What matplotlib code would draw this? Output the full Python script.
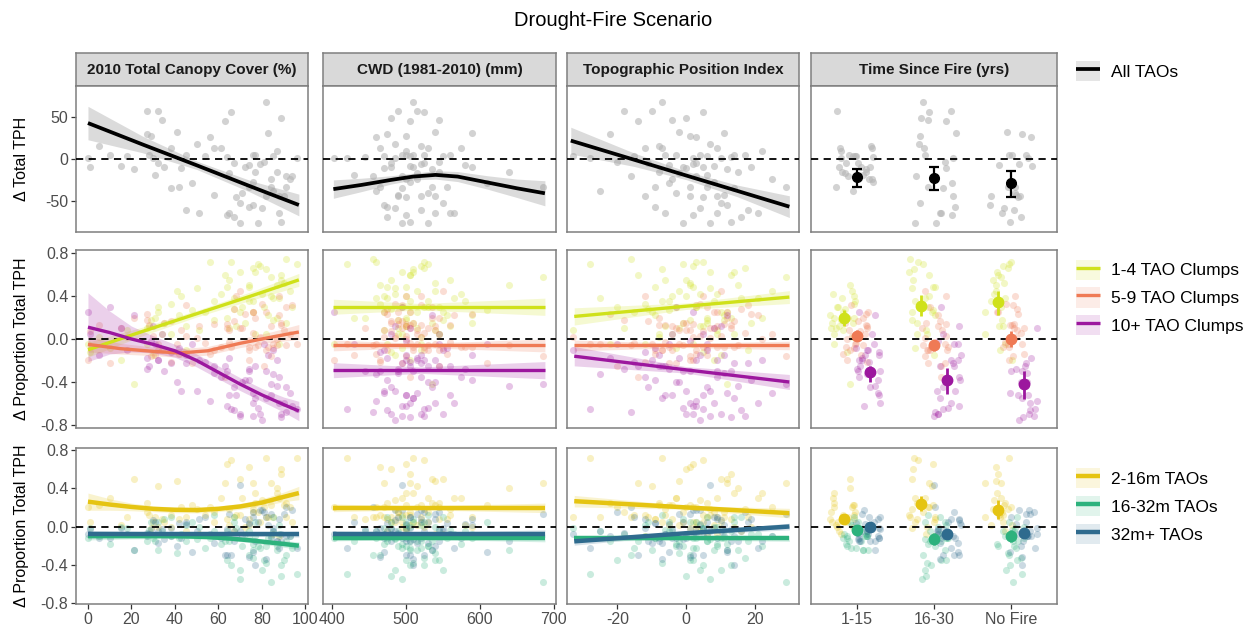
"""Drought-fire scenario: change in trees per hectare against site covariates."""

import matplotlib.pyplot as plt
import numpy as np
from matplotlib.lines import Line2D
from matplotlib.patches import Patch

plt.rcParams["font.family"] = ["Liberation Sans", "DejaVu Sans"]
plt.rcParams["axes.unicode_minus"] = False

# ---- per-site covariates -------------------------------------------------
canopy = [0, 1, 5, 10, 15, 18, 21, 27, 32, 34,
          27, 29, 28, 30, 32, 31, 35, 38, 41, 38,
          42, 43, 45, 45, 48, 50, 51, 54, 56, 58,
          58, 61, 63, 66, 64, 65, 67, 64, 65, 67,
          70, 71, 72, 74, 76, 77, 79, 82, 83, 80,
          78, 76, 84, 85, 87, 89, 88, 89, 88, 91,
          93, 94, 96, 91, 84, 82, 81, 77, 74, 70,
          68, 74, 76, 85, 90, 87]
cwd = [403, 480, 520, 495, 505, 470, 535, 490, 515, 545,
       475, 500, 560, 485, 525, 430, 510, 465, 540, 495,
       555, 470, 500, 520, 610, 485, 540, 505, 460, 530,
       490, 575, 505, 525, 445, 515, 480, 500, 560, 475,
       495, 530, 590, 465, 505, 545, 520, 510, 590, 485,
       530, 470, 500, 550, 640, 480, 520, 505, 565, 455,
       515, 495, 420, 535, 685, 490, 545, 510, 475, 550,
       500, 580, 525, 460, 540, 500]
tpi = [2, 5, -8, -3, 8, -33, 12, -18, -10, -4,
       -22, 1, -6, 10, 3, 6, -1, -12, -2, 14,
       -9, 0, 4, 18, -5, 7, 9, -15, 3, -7,
       11, 9, -14, 5, 13, -2, -11, 2, -6, 16,
       7, -3, 19, 1, 8, -8, 2, -7, 11, 4,
       -1, 12, -4, 6, 15, 0, -12, 13, 21, -16,
       25, 3, -28, 6, 29, 9, -20, 14, -9, 10,
       5, -5, 17, -25, 1, 22]
# 1 = burned 1-15 yrs ago, 2 = 16-30 yrs ago, 3 = no fire
fire = [1, 1, 1, 2, 3, 1, 1, 1, 2, 2,
        3, 2, 3, 2, 1, 1, 1, 1, 3, 2,
        1, 2, 1, 3, 2, 2, 2, 1, 3, 2,
        3, 1, 2, 2, 1, 1, 1, 2, 3, 3,
        2, 3, 1, 3, 1, 1, 3, 2, 2, 3,
        2, 3, 1, 1, 1, 2, 2, 3, 2, 2,
        1, 1, 3, 2, 3, 3, 2, 3, 2, 2,
        3, 3, 3, 1, 3, 1]
jitter = [-0.21, 0.05, 0.18, -0.12, 0.27, -0.03, 0.11, -0.26, 0.22, -0.08,
          0.14, -0.18, 0.02, 0.25, -0.15, 0.08, -0.24, 0.19, -0.05, 0.12,
          -0.28, 0.16, -0.10, 0.04, 0.23, -0.19, 0.09, -0.02, 0.26, -0.13,
          0.07, -0.22, 0.15, -0.07, 0.20, -0.16, 0.01, 0.24, -0.11, 0.13,
          -0.25, 0.06, 0.17, -0.04, 0.21, -0.20, 0.10, -0.14, 0.28, -0.09,
          0.03, -0.27, 0.19, -0.06, 0.11, -0.17, 0.25, -0.01, 0.08, -0.23,
          0.16, -0.12, 0.22, -0.08, 0.05, -0.26, 0.14, -0.03, 0.27, -0.18,
          0.09, -0.15, 0.20, -0.05, 0.12, -0.21]

# ---- per-site responses --------------------------------------------------
d_tph = [1, -10, 16, 5, -8, 4, -12, 57, 57, 47,
         30, 27, 5, 1, -5, -19, -9, 13, 32, -35,
         -33, -11, 5, -61, -29, 18, -64, 3, 26, 13,
         -43, 13, 46, 56, 2, -17, -5, -67, -65, -69,
         -77, -41, -9, -33, -27, -15, -6, 68, 31, -59,
         -77, -55, -24, 3, -15, 49, -44, -75, -65, -20,
         -24, -20, 1, -33, -33, -44, -3, 5, -57, -53,
         -45, -7, 5, -38, -44, 9]
clump_1_4 = [-0.05, -0.12, 0.02, -0.08, -0.20, 0.08, -0.42, 0.10, 0.25, 0.05,
             -0.05, 0.18, 0.12, -0.15, 0.30, 0.20, 0.15, 0.33, 0.45, 0.05,
             0.22, 0.40, 0.12, -0.10, 0.27, 0.47, 0.08, 0.25, 0.72, 0.35,
             0.18, 0.42, 0.60, 0.72, 0.20, 0.10, 0.28, 0.48, 0.55, 0.38,
             0.62, 0.30, 0.15, 0.50, 0.35, 0.05, 0.68, 0.65, 0.22, 0.42,
             0.70, 0.25, 0.40, 0.18, 0.50, 0.55, -0.05, 0.60, 0.38, 0.74,
             0.45, 0.30, 0.70, 0.15, 0.58, 0.05, 0.30, 0.62, 0.48, 0.25,
             0.12, 0.35, 0.66, 0.38, 0.52, 0.20]
clump_5_9 = [-0.20, 0.07, 0.13, -0.22, 0.10, 0.02, 0.20, 0.18, -0.05, -0.10,
             0.23, -0.16, 0.13, 0.03, -0.10, -0.15, 0.15, -0.21, -0.05, 0.17,
             -0.14, 0.08, 0.03, 0.32, -0.22, 0.01, 0.12, -0.04, -0.14, -0.10,
             0.14, -0.07, -0.35, -0.07, 0.10, 0.08, 0.17, 0.14, -0.03, 0.28,
             0.10, 0.10, 0.23, -0.20, 0.25, 0.20, 0.02, -0.10, -0.07, 0.33,
             -0.06, 0.25, 0.12, -0.08, -0.06, 0.15, 0.40, 0.13, 0.22, -0.06,
             0.05, 0.32, -0.05, 0.30, -0.16, 0.25, -0.25, -0.07, -0.10, 0.45,
             0.40, -0.07, 0.06, -0.05, 0.08, 0.00]
clump_10 = [0.25, 0.05, -0.15, 0.30, 0.10, -0.10, 0.22, -0.28, -0.20, 0.05,
            -0.18, -0.02, -0.25, 0.12, -0.20, -0.05, -0.30, -0.12, -0.40, -0.22,
            -0.08, -0.48, -0.15, -0.22, -0.05, -0.48, -0.20, -0.21, -0.58, -0.25,
            -0.32, -0.35, -0.25, -0.65, -0.30, -0.18, -0.45, -0.62, -0.52, -0.66,
            -0.72, -0.40, -0.38, -0.30, -0.60, -0.25, -0.70, -0.55, -0.15, -0.75,
            -0.64, -0.50, -0.52, -0.10, -0.44, -0.70, -0.35, -0.73, -0.60, -0.68,
            -0.50, -0.62, -0.65, -0.45, -0.42, -0.30, -0.05, -0.55, -0.38, -0.70,
            -0.52, -0.28, -0.72, -0.33, -0.60, -0.20]
size_2_16 = [0.20, 0.05, 0.22, 0.30, 0.02, 0.10, 0.50, 0.15, 0.42, 0.08,
             0.25, -0.02, 0.12, 0.05, 0.00, 0.10, 0.05, 0.12, 0.48, 0.00,
             0.08, 0.20, -0.05, 0.10, 0.22, 0.18, -0.08, 0.12, 0.20, 0.05,
             0.15, 0.30, 0.45, 0.70, 0.08, 0.02, 0.10, 0.65, 0.18, -0.05,
             0.12, 0.30, 0.00, 0.62, 0.15, 0.25, 0.05, 0.72, 0.10, 0.28,
             0.15, 0.45, 0.22, -0.08, 0.40, 0.60, -0.10, 0.55, 0.30, 0.10,
             0.20, 0.05, 0.72, 0.25, 0.45, 0.10, 0.20, 0.35, 0.08, 0.50,
             0.12, 0.02, 0.18, 0.10, 0.22, 0.35]
size_16_32 = [-0.12, -0.02, -0.10, -0.18, 0.00, -0.02, -0.25, -0.08, -0.25, -0.05,
              -0.15, 0.05, -0.04, -0.12, 0.05, -0.15, 0.08, -0.10, -0.28, 0.10,
              -0.12, -0.08, 0.02, -0.15, 0.05, -0.13, 0.00, -0.22, -0.12, 0.12,
              -0.05, -0.18, -0.15, -0.40, -0.05, -0.15, 0.05, -0.35, -0.10, 0.10,
              -0.55, -0.20, -0.08, -0.30, -0.25, -0.10, -0.22, -0.38, -0.12, -0.45,
              -0.20, -0.18, -0.10, 0.10, -0.25, -0.52, 0.02, -0.40, -0.08, -0.30,
              -0.10, -0.22, -0.50, -0.15, -0.58, -0.20, -0.35, 0.05, -0.12, -0.45,
              -0.02, -0.05, -0.33, -0.05, -0.35, -0.20]
size_32 = [-0.08, -0.03, -0.12, -0.12, -0.02, -0.08, -0.25, -0.07, -0.17, -0.03,
           -0.10, -0.03, -0.08, 0.07, -0.05, 0.05, -0.13, -0.02, -0.20, -0.10,
           0.04, -0.12, 0.03, 0.05, -0.27, -0.05, 0.08, 0.10, -0.08, -0.17,
           -0.10, -0.12, -0.30, -0.30, -0.03, 0.13, -0.15, -0.30, -0.08, -0.05,
           0.43, -0.10, 0.08, -0.32, 0.10, -0.15, 0.17, -0.34, 0.02, 0.17,
           0.05, -0.27, -0.12, -0.02, -0.15, -0.08, 0.08, -0.15, -0.22, 0.20,
           -0.10, 0.17, -0.22, -0.10, 0.13, 0.10, 0.15, -0.40, 0.04, -0.05,
           -0.10, 0.03, 0.15, -0.05, 0.13, -0.15]

# ---- smoother fits: (x, fitted value, half-width of 95% band) ------------
fit_tph_canopy = [(0, 43, 20), (25, 17.5, 10), (50, -7.5, 5), (75, -33, 7), (97, -55, 13)]
fit_tph_cwd = [(402, -36, 11), (440, -31, 8), (480, -25, 5), (510, -21, 4), (540, -19, 5),
               (570, -21, 6), (610, -28, 8), (650, -35, 11), (688, -41, 15)]
fit_tph_tpi = [(-33.5, 22, 16), (-15, -1, 8), (0, -19.7, 5), (15, -38.3, 7), (30, -57, 13)]

fit_c14_canopy = [(0, -0.10, 0.07), (25, 0.07, 0.04), (50, 0.235, 0.03), (75, 0.40, 0.04), (97, 0.55, 0.06)]
fit_c59_canopy = [(0, -0.05, 0.07), (15, -0.09, 0.05), (30, -0.115, 0.04), (42, -0.13, 0.04),
                  (55, -0.11, 0.04), (70, -0.04, 0.04), (85, 0.02, 0.05), (97, 0.065, 0.07)]
fit_c10_canopy = [(0, 0.11, 0.32), (10, 0.06, 0.20), (20, 0.0, 0.12), (30, -0.05, 0.08),
                  (40, -0.11, 0.06), (50, -0.20, 0.06), (60, -0.31, 0.06), (70, -0.42, 0.06),
                  (80, -0.52, 0.06), (90, -0.61, 0.07), (97, -0.67, 0.09)]
fit_c14_cwd = [(402, 0.30, 0.07), (520, 0.30, 0.03), (688, 0.30, 0.08)]
fit_c59_cwd = [(402, -0.06, 0.05), (520, -0.06, 0.02), (688, -0.06, 0.06)]
fit_c10_cwd = [(402, -0.29, 0.07), (520, -0.29, 0.03), (688, -0.29, 0.08)]
fit_c14_tpi = [(-32.5, 0.21, 0.08), (0, 0.305, 0.03), (30, 0.39, 0.06)]
fit_c59_tpi = [(-32.5, -0.06, 0.05), (0, -0.06, 0.02), (30, -0.06, 0.04)]
fit_c10_tpi = [(-32.5, -0.16, 0.09), (0, -0.287, 0.03), (30, -0.40, 0.07)]

fit_s216_canopy = [(0, 0.26, 0.09), (10, 0.23, 0.06), (20, 0.205, 0.04), (30, 0.185, 0.03),
                   (40, 0.175, 0.03), (50, 0.172, 0.03), (60, 0.185, 0.03), (70, 0.21, 0.03),
                   (80, 0.25, 0.04), (90, 0.31, 0.05), (97, 0.35, 0.07)]
fit_s1632_canopy = [(0, -0.10, 0.04), (20, -0.10, 0.03), (40, -0.10, 0.025), (55, -0.11, 0.02),
                    (65, -0.125, 0.02), (75, -0.145, 0.025), (85, -0.17, 0.03), (97, -0.20, 0.04)]
fit_s32_canopy = [(0, -0.08, 0.04), (50, -0.08, 0.015), (97, -0.08, 0.03)]
fit_s216_cwd = [(402, 0.195, 0.04), (520, 0.195, 0.02), (688, 0.195, 0.05)]
fit_s1632_cwd = [(402, -0.12, 0.03), (520, -0.12, 0.015), (688, -0.12, 0.04)]
fit_s32_cwd = [(402, -0.075, 0.03), (520, -0.075, 0.015), (688, -0.075, 0.04)]
fit_s216_tpi = [(-32.5, 0.265, 0.06), (0, 0.20, 0.02), (30, 0.14, 0.05)]
fit_s1632_tpi = [(-32.5, -0.125, 0.03), (0, -0.125, 0.015), (30, -0.125, 0.03)]
fit_s32_tpi = [(-32.5, -0.155, 0.04), (0, -0.07, 0.015), (30, 0.0, 0.035)]

# ---- group means by time since fire: (mean, lower CI, upper CI) ----------
fire_labels = ["1-15", "16-30", "No Fire"]
ci_tph = [(-22, -33, -12), (-23, -37, -9), (-29, -45, -14)]
ci_c14 = [(0.20, 0.12, 0.27), (0.31, 0.21, 0.41), (0.34, 0.22, 0.45)]
ci_c59 = [(0.03, -0.01, 0.08), (-0.06, -0.11, -0.01), (0.0, -0.07, 0.07)]
ci_c10 = [(-0.31, -0.40, -0.25), (-0.385, -0.51, -0.27), (-0.42, -0.56, -0.30)]
ci_s216 = [(0.08, 0.04, 0.12), (0.24, 0.16, 0.32), (0.17, 0.08, 0.275)]
ci_s1632 = [(-0.035, -0.07, 0.0), (-0.13, -0.19, -0.07), (-0.10, -0.16, -0.04)]
ci_s32 = [(-0.007, -0.045, 0.03), (-0.077, -0.125, -0.03), (-0.066, -0.115, -0.02)]

strip_titles = ["2010 Total Canopy Cover (%)", "CWD (1981-2010) (mm)",
                "Topographic Position Index", "Time Since Fire (yrs)"]

# ---- layout (pixels on a 1253 x 630 canvas) ------------------------------
W, H = 1253, 630
COLS_PX = [(76, 308), (323, 556), (567, 799), (811, 1057)]
ROWS_PX = [(86, 232), (250, 428), (448, 604)]
STRIP_TOP = 53
XLIMS = [(-5.5, 101.2), (388, 703), (-34.6, 32.8), (0.4, 3.6)]
YLIMS = [(-87.3, 87.3), (-0.828, 0.828), (-0.81, 0.821)]
XTICKS = [[0, 20, 40, 60, 80, 100], [400, 500, 600, 700], [-20, 0, 20], [1, 2, 3]]
DODGE = [-0.165, 0.0, 0.165]
FRAME = "#7f7f7f"
TEXT = "#4d4d4d"


def px_rect(x0, x1, y0, y1):
    return [x0 / W, 1 - y1 / H, (x1 - x0) / W, (y1 - y0) / H]


def style_axes(ax, row, col):
    ax.set_xlim(*XLIMS[col])
    ax.set_ylim(*YLIMS[row])
    for sp in ax.spines.values():
        sp.set_color(FRAME)
        sp.set_linewidth(1.1)
    ax.tick_params(direction="out", length=3.5, width=0.9, color="#333333",
                   labelcolor=TEXT, labelsize=11.5, pad=2)
    ax.set_xticks(XTICKS[col])
    if col == 3:
        ax.set_xticklabels(fire_labels)
    if row < 2:
        ax.tick_params(bottom=False, labelbottom=False)
    if row == 0:
        ax.set_yticks([-50, 0, 50])
    else:
        ticks = [-0.8, -0.4, 0.0, 0.4, 0.8]
        ax.set_yticks(ticks)
        ax.set_yticklabels([f"{t:.1f}" for t in ticks])
    if col > 0:
        ax.tick_params(left=False, labelleft=False)
    ax.axhline(0, color="black", lw=1.3, ls=(0, (4, 3)), zorder=3)


def draw_fit(ax, fit, color, lw, band_color, band_alpha):
    x, y, half = np.array(fit, dtype=float).T
    ax.fill_between(x, y - half, y + half, color=band_color, alpha=band_alpha,
                    lw=0, zorder=2)
    ax.plot(x, y, color=color, lw=lw, zorder=4, solid_capstyle="butt")


fig = plt.figure(figsize=(W / 100, H / 100), dpi=100)
fig.text(613 / W, 1 - 20 / H, "Drought-Fire Scenario", ha="center", va="center",
         fontsize=14.5, color="black")

for col, title in enumerate(strip_titles):
    x0, x1 = COLS_PX[col]
    sax = fig.add_axes(px_rect(x0, x1, STRIP_TOP, ROWS_PX[0][0]))
    sax.set_facecolor("#d9d9d9")
    sax.set_xticks([])
    sax.set_yticks([])
    for sp in sax.spines.values():
        sp.set_color(FRAME)
        sp.set_linewidth(1.1)
    sax.text(0.5, 0.47, title, ha="center", va="center", fontsize=11,
             fontweight="bold", color="#1a1a1a", transform=sax.transAxes)

covariates = [canopy, cwd, tpi]
fire_arr = np.array(fire, dtype=float)
jit_arr = np.array(jitter)

# Row 1: all TAOs together
row1_fits = [fit_tph_canopy, fit_tph_cwd, fit_tph_tpi]
for col in range(4):
    x0, x1 = COLS_PX[col]
    ax = fig.add_axes(px_rect(x0, x1, *ROWS_PX[0]))
    style_axes(ax, 0, col)
    if col < 3:
        ax.scatter(covariates[col], d_tph, s=26, color="#b5b5b5", alpha=0.6, lw=0, zorder=1)
        draw_fit(ax, row1_fits[col], "black", 2.7, "#999999", 0.35)
    else:
        ax.scatter(fire_arr + jit_arr, d_tph, s=26, color="#b5b5b5", alpha=0.6, lw=0, zorder=1)
        for k, (m, lo, hi) in enumerate(ci_tph):
            ax.errorbar(k + 1, m, yerr=[[m - lo], [hi - m]], fmt="o", color="black",
                        ms=7, elinewidth=1.6, capsize=3.5, capthick=1.6, zorder=5)

# Rows 2 and 3: TAO clump classes, then TAO size classes
clump_groups = [
    ("1-4 TAO Clumps", "#cfe11a", clump_1_4, [fit_c14_canopy, fit_c14_cwd, fit_c14_tpi], ci_c14),
    ("5-9 TAO Clumps", "#ef7a55", clump_5_9, [fit_c59_canopy, fit_c59_cwd, fit_c59_tpi], ci_c59),
    ("10+ TAO Clumps", "#9c179e", clump_10, [fit_c10_canopy, fit_c10_cwd, fit_c10_tpi], ci_c10),
]
size_groups = [
    ("2-16m TAOs", "#e5c412", size_2_16, [fit_s216_canopy, fit_s216_cwd, fit_s216_tpi], ci_s216),
    ("16-32m TAOs", "#2db27d", size_16_32, [fit_s1632_canopy, fit_s1632_cwd, fit_s1632_tpi], ci_s1632),
    ("32m+ TAOs", "#2f6b8e", size_32, [fit_s32_canopy, fit_s32_cwd, fit_s32_tpi], ci_s32),
]

for row, groups, lw in [(1, clump_groups, 2.4), (2, size_groups, 3.2)]:
    for col in range(4):
        x0, x1 = COLS_PX[col]
        ax = fig.add_axes(px_rect(x0, x1, *ROWS_PX[row]))
        style_axes(ax, row, col)
        for gi, (label, color, values, fits, ci) in enumerate(groups):
            if col < 3:
                ax.scatter(covariates[col], values, s=26, color=color, alpha=0.25,
                           lw=0, zorder=1)
                draw_fit(ax, fits[col], color, lw, color, 0.2)
            else:
                xs = fire_arr + DODGE[gi] + jit_arr * 0.65
                ax.scatter(xs, values, s=26, color=color, alpha=0.25, lw=0, zorder=1)
                for k, (m, lo, hi) in enumerate(ci):
                    ax.errorbar(k + 1 + DODGE[gi], m, yerr=[[m - lo], [hi - m]], fmt="o",
                                color=color, ms=7.5, elinewidth=2.0, capsize=0, zorder=5)

# Y-axis titles
for (y0, y1), label in zip(ROWS_PX, ["Δ Total TPH", "Δ Proportion Total TPH",
                                     "Δ Proportion Total TPH"]):
    fig.text(22 / W, 1 - (y0 + y1) / 2 / H, label, rotation=90, ha="center",
             va="center", fontsize=11.5, color="black")


# Legends: a light band swatch with the fit line drawn over it
def key(color, lw, band_color, band_alpha):
    return (Patch(facecolor=band_color, alpha=band_alpha, edgecolor="none"),
            Line2D([], [], color=color, lw=lw, solid_capstyle="butt"))


legend_specs = [
    (71, [key("black", 2.7, "#999999", 0.25)], ["All TAOs"]),
    (297.5, [key(c, 2.4, c, 0.14) for _, c, *_ in clump_groups], [g[0] for g in clump_groups]),
    (506, [key(c, 3.2, c, 0.14) for _, c, *_ in size_groups], [g[0] for g in size_groups]),
]
for yc, handles, labels in legend_specs:
    fig.legend(handles, labels, loc="center left", bbox_to_anchor=(1076 / W, 1 - yc / H),
               frameon=False, fontsize=12.5, handlelength=1.4, handleheight=1.4,
               handletextpad=0.6, labelspacing=0.45, borderpad=0, borderaxespad=0)

fig.savefig("out.png", dpi=100)
